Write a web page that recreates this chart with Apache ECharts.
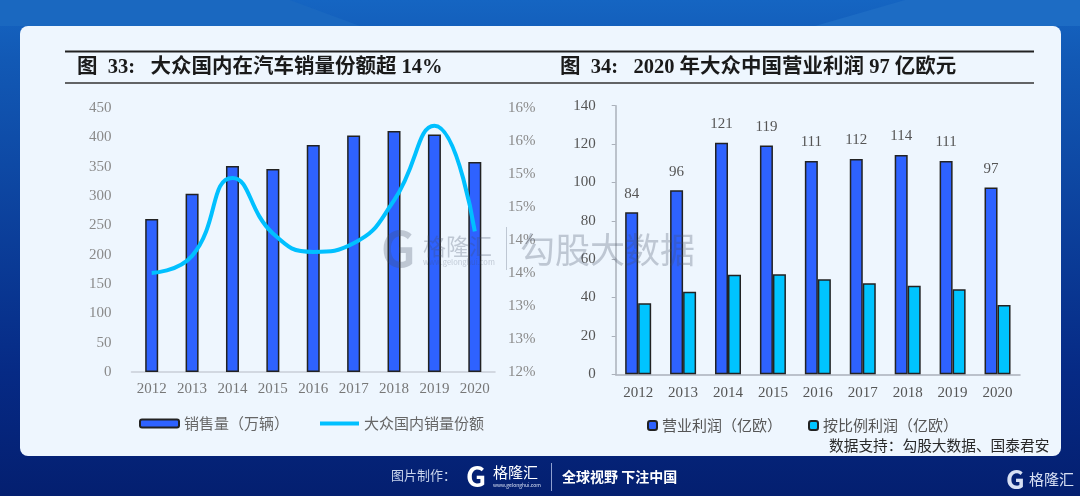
<!doctype html>
<html>
<head>
    <title>大众中国</title>
    <script src="https://cdn.jsdelivr.net/npm/echarts@6/dist/echarts.min.js"></script>
    <style>
        html, body { margin: 0; padding: 0; background: #041f70; }
        #chart { width: 1080px; height: 496px; }
    </style>
</head>
<body>
<div id="chart"></div>
<script type="text/javascript">

    var years = ['2012', '2013', '2014', '2015', '2016', '2017', '2018', '2019', '2020'];
    var salesVolume = [261, 304, 351, 346, 387, 403, 411, 405, 358];
    var marketShare = [13.5, 13.76, 14.94, 14.1, 13.82, 13.95, 14.6, 15.73, 14.13];
    var shareTickLabels = ['12%', '13%', '13%', '14%', '14%', '15%', '15%', '16%', '16%'];
    var operatingProfit = [84.4, 95.9, 120.7, 119.3, 111.2, 112.2, 114.3, 111.2, 97.4];
    var proportionalProfit = [37, 43, 51.9, 52.2, 49.5, 47.4, 46.2, 44.3, 36.1];

    var SERIF = '"Liberation Serif", "Noto Sans CJK SC", serif';
    var SANS = '"Noto Sans CJK SC", sans-serif';

    var myChart = echarts.init(document.getElementById('chart'), null, {renderer: 'canvas'});

    function text(x, y, str, size, color, extra) {
        var style = {x: x, y: y, text: str, fill: color, font: (extra && extra.weight || 'normal') + ' ' + size + 'px ' + (extra && extra.family || SANS), textVerticalAlign: 'middle', textAlign: extra && extra.align || 'left'};
        return {type: 'text', z: extra && extra.z || 5, silent: true, style: style};
    }

    function rule(x1, y1, x2, y2, color, width, z) {
        return {type: 'line', z: z || 5, silent: true, shape: {x1: x1, y1: y1, x2: x2, y2: y2}, style: {stroke: color, lineWidth: width}};
    }

    var graphics = [
        // light bands in the page background
        {type: 'polygon', z: -2, silent: true, shape: {points: [[815, 26], [905, 0], [1080, 0], [1080, 26]]}, style: {fill: '#1d6cc4'}},
        {type: 'polygon', z: -2, silent: true, shape: {points: [[0, 0], [290, 0], [360, 26], [0, 26]]}, style: {fill: '#1a68c0'}},
        // white panel, has to stay under the axes
        {type: 'rect', z: -1, silent: true, shape: {x: 20, y: 26, width: 1041, height: 430, r: 8}, style: {fill: '#eef6fe'}},
        rule(65, 51.5, 1034, 51.5, '#222222', 2),
        rule(65, 83, 1034, 83, '#333333', 1.5),
        text(77, 68, '图  33:   大众国内在汽车销量份额超 14%', 20.5, '#1a1a1a', {weight: 'bold', family: SERIF}),
        text(560, 68, '图  34:   2020 年大众中国营业利润 97 亿欧元', 20.5, '#1a1a1a', {weight: 'bold', family: SERIF}),
        text(829, 445, '数据支持：勾股大数据、国泰君安', 14.7, '#2a2a2a'),
        // watermark
        text(381, 249, 'G', 48, 'rgba(70,80,100,0.28)', {weight: 'bold', z: 20}),
        text(423, 246, '格隆汇', 23, 'rgba(70,80,100,0.28)', {z: 20}),
        text(423, 262, 'www.gelonghui.com', 7.5, 'rgba(70,80,100,0.28)', {z: 20}),
        rule(506.5, 227, 506.5, 270, 'rgba(70,80,100,0.28)', 1, 20),
        text(520, 250, '勾股大数据', 35, 'rgba(70,80,100,0.28)', {z: 20}),
        // footer
        text(391, 475, '图片制作：', 13, '#c8d4ec'),
        text(466, 476, 'G', 28, '#ffffff', {weight: 'bold'}),
        text(493, 472, '格隆汇', 15, '#ffffff'),
        text(493, 485, 'www.gelonghui.com', 5, '#d8e0f4'),
        rule(551.5, 463, 551.5, 491, '#8fa0d0', 1),
        text(562, 477, '全球视野 下注中国', 14, '#ffffff', {weight: 'bold'}),
        text(1006, 479, 'G', 26, '#d8e0f4', {weight: 'bold'}),
        text(1029, 479, '格隆汇', 15, '#d8e0f4')
    ];

    var option = {
        animation: false,
        backgroundColor: new echarts.graphic.LinearGradient(0, 0, 0, 1, [
            {offset: 0, color: '#1565c2'},
            {offset: 0.12, color: '#1259b5'},
            {offset: 0.75, color: '#062a85'},
            {offset: 1, color: '#041f70'}
        ]),
        graphic: graphics,
        legend: [
            {
                left: 139, top: 416, padding: 0, itemWidth: 39, itemHeight: 8, itemGap: 29,
                data: [
                    {name: '销售量（万辆）'},
                    {name: '大众国内销量份额', itemStyle: {opacity: 0}, lineStyle: {width: 4}}
                ],
                textStyle: {fontFamily: SANS, fontSize: 15, color: '#666666'}
            },
            {
                left: 647, top: 418, padding: 0, itemWidth: 9, itemHeight: 9, itemGap: 26,
                data: ['营业利润（亿欧）', '按比例利润（亿欧）'],
                textStyle: {fontFamily: SANS, fontSize: 15, color: '#555555'}
            }
        ],
        grid: [
            {left: 131.5, top: 108, width: 363.5, height: 264},
            {left: 615.7, top: 105.7, width: 404.3, height: 268.6}
        ],
        xAxis: [
            {
                type: 'category', gridIndex: 0, data: years,
                axisLine: {lineStyle: {color: '#c9ced8', width: 1.5}},
                axisTick: {show: false},
                axisLabel: {interval: 0, margin: 10, fontFamily: SERIF, fontSize: 15, color: '#777777'}
            },
            {
                type: 'category', gridIndex: 1, data: years,
                axisLine: {lineStyle: {color: '#aab0ba', width: 1.5}},
                axisTick: {length: 4, lineStyle: {color: '#aab0ba'}},
                axisLabel: {interval: 0, margin: 11, fontFamily: SERIF, fontSize: 15, color: '#555555'}
            }
        ],
        yAxis: [
            {
                type: 'value', gridIndex: 0, min: 0, max: 450, interval: 50,
                axisLine: {show: false}, axisTick: {show: false}, splitLine: {show: false},
                axisLabel: {margin: 20, fontFamily: SERIF, fontSize: 15, color: '#8a8a8a'}
            },
            {
                type: 'value', gridIndex: 0, position: 'right', min: 12, max: 16, interval: 0.5,
                axisLine: {show: false}, axisTick: {show: false}, splitLine: {show: false},
                axisLabel: {
                    margin: 13, fontFamily: SERIF, fontSize: 15, color: '#8a8a8a',
                    formatter: function (value) {
                        return shareTickLabels[Math.round((value - 12) / 0.5)];
                    }
                }
            },
            {
                type: 'value', gridIndex: 1, min: 0, max: 140, interval: 20,
                axisLine: {show: true, lineStyle: {color: '#aab0ba', width: 1.5}},
                axisTick: {show: true, length: 4, lineStyle: {color: '#aab0ba'}},
                splitLine: {show: false},
                axisLabel: {margin: 20, fontFamily: SERIF, fontSize: 15, color: '#555555'}
            }
        ],
        series: [
            {
                name: '销售量（万辆）', type: 'bar', xAxisIndex: 0, yAxisIndex: 0,
                data: salesVolume, barWidth: 13,
                itemStyle: {color: '#2e62ff', borderColor: '#222222', borderWidth: 1.5}
            },
            {
                name: '大众国内销量份额', type: 'line', xAxisIndex: 0, yAxisIndex: 1,
                data: marketShare, smooth: 0.5, symbol: 'none',
                itemStyle: {color: '#00c0ff'},
                lineStyle: {color: '#00c0ff', width: 4}
            },
            {
                name: '营业利润（亿欧）', type: 'bar', xAxisIndex: 1, yAxisIndex: 2,
                data: operatingProfit, barWidth: 13, barGap: 0,
                itemStyle: {color: '#2e62ff', borderColor: '#222222', borderWidth: 1.5},
                label: {
                    show: true, position: 'top', distance: 11,
                    fontFamily: SERIF, fontSize: 15, color: '#555555',
                    formatter: function (p) { return Math.round(p.value); }
                }
            },
            {
                name: '按比例利润（亿欧）', type: 'bar', xAxisIndex: 1, yAxisIndex: 2,
                data: proportionalProfit, barWidth: 13,
                itemStyle: {color: '#00c4ff', borderColor: '#222222', borderWidth: 1.5}
            }
        ]
    };

    myChart.setOption(option);

</script>
</body>
</html>
